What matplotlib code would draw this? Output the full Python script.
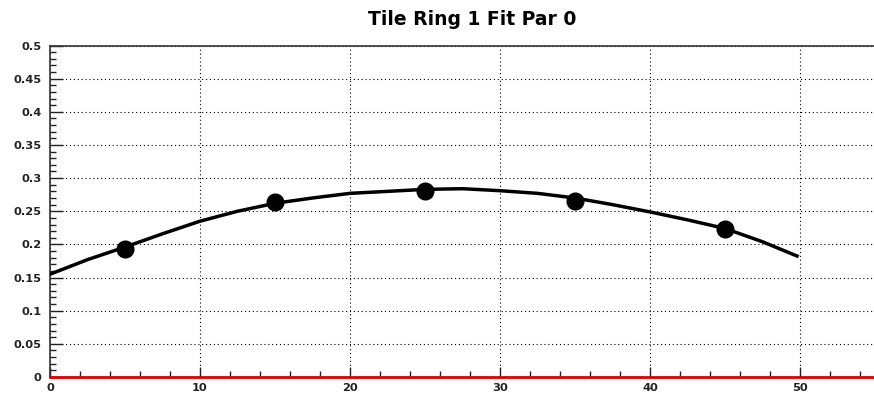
import numpy as np
import matplotlib
matplotlib.use('Agg')
import matplotlib.pyplot as plt
from matplotlib.ticker import MultipleLocator

# measured points
px = [5, 15, 25, 35, 45]
py = [0.1935, 0.264, 0.280, 0.266, 0.2225]

# fit curve
fx = [0, 2.5, 5, 7.5, 10, 12.5, 15, 17.5, 20, 22.5, 25, 27.5,
      30, 32.5, 35, 37.5, 40, 42.5, 45, 47.5, 49.8]
fy = [0.155, 0.177, 0.196, 0.216, 0.235, 0.250, 0.262, 0.270, 0.277, 0.280,
      0.283, 0.284, 0.281, 0.277, 0.270, 0.260, 0.249, 0.237, 0.224, 0.204, 0.1825]

plt.rcParams['font.family'] = ['DejaVu Sans']
plt.rcParams['font.weight'] = 'bold'

fig = plt.figure(figsize=(8.74, 3.98), dpi=100)
ax = fig.add_axes([50/874, 21/398, 825/874, 331.5/398])

ax.set_xlim(0, 55)
ax.set_ylim(0, 0.5)

ax.plot(fx, fy, color='black', lw=2.5, zorder=3)
ax.plot(px, py, 'o', color='black', ms=12, zorder=4)
ax.axhline(0, color='#dd0000', lw=2, zorder=5, clip_on=False)

ax.xaxis.set_major_locator(MultipleLocator(10))
ax.xaxis.set_minor_locator(MultipleLocator(2))
ax.yaxis.set_major_locator(MultipleLocator(0.05))
ax.yaxis.set_minor_locator(MultipleLocator(0.01))
ax.yaxis.set_major_formatter(plt.FuncFormatter(lambda v, p: ('%g' % round(v, 3))))

ax.tick_params(which='both', direction='in', colors='#222222', top=False, right=False)
ax.tick_params(axis='y', which='major', length=9, width=1, labelsize=8.2, pad=6)
ax.tick_params(axis='y', which='minor', length=4.5, width=1)
ax.tick_params(axis='x', which='major', length=7, width=1, labelsize=8.2, pad=4)
ax.tick_params(axis='x', which='minor', length=4, width=1)
for lab in ax.get_xticklabels() + ax.get_yticklabels():
    lab.set_fontweight('bold')

ax.grid(True, which='major', color='black', linestyle=(0, (1, 2.5)), lw=0.8)

for s in ['left', 'top']:
    ax.spines[s].set_color('#333333')
    ax.spines[s].set_linewidth(1.2)
ax.spines['right'].set_visible(False)
ax.spines['bottom'].set_color('#333333')

fig.text(0.54, 1 - 25/398, 'Tile Ring 1 Fit Par 0', ha='center', va='baseline',
         fontsize=13.5, fontweight='bold')

plt.savefig('out.png', dpi=100)
